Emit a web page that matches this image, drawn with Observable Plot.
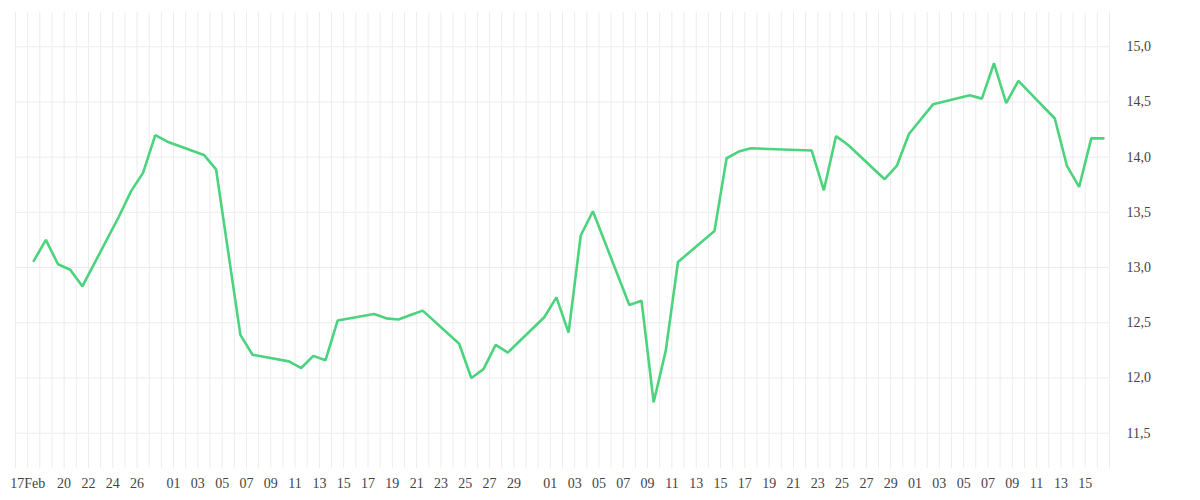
<!DOCTYPE html>
<html><head><meta charset="utf-8">
<script src="https://cdn.jsdelivr.net/npm/d3@7"></script>
<script src="https://cdn.jsdelivr.net/npm/@observablehq/plot@0.6"></script>
<style>
  html,body{margin:0;padding:0;background:#fff;}
  #chart svg{display:block;}
  #chart svg text{font-family:'Liberation Serif','Times New Roman',serif;}
</style>
</head><body><div id="chart"></div>
<script>
// Trading days (2025) and closing values
const dates = [
  "2025-02-17","2025-02-18","2025-02-19","2025-02-20","2025-02-21",
  "2025-02-24","2025-02-25","2025-02-26","2025-02-27","2025-02-28",
  "2025-03-03","2025-03-04","2025-03-05","2025-03-06","2025-03-07",
  "2025-03-10","2025-03-11","2025-03-12","2025-03-13","2025-03-14",
  "2025-03-17","2025-03-18","2025-03-19","2025-03-20","2025-03-21",
  "2025-03-24","2025-03-25","2025-03-26","2025-03-27","2025-03-28",
  "2025-03-31","2025-04-01","2025-04-02","2025-04-03","2025-04-04",
  "2025-04-07","2025-04-08","2025-04-09","2025-04-10","2025-04-11",
  "2025-04-14","2025-04-15","2025-04-16","2025-04-17",
  "2025-04-22","2025-04-23","2025-04-24","2025-04-25",
  "2025-04-28","2025-04-29","2025-04-30","2025-05-02",
  "2025-05-05","2025-05-06","2025-05-07","2025-05-08","2025-05-09",
  "2025-05-12","2025-05-13","2025-05-14","2025-05-15","2025-05-16"
];
const values = [
  13.06, 13.25, 13.03, 12.98, 12.83,
  13.46, 13.69, 13.86, 14.20, 14.14,
  14.02, 13.89, 13.14, 12.39, 12.21,
  12.15, 12.09, 12.20, 12.16, 12.52,
  12.58, 12.54, 12.53, 12.57, 12.61,
  12.31, 12.00, 12.08, 12.30, 12.23,
  12.55, 12.73, 12.41, 13.29, 13.51,
  12.66, 12.70, 11.78, 12.25, 13.05,
  13.33, 13.99, 14.05, 14.08,
  14.06, 13.70, 14.19, 14.11,
  13.80, 13.92, 14.21, 14.48,
  14.56, 14.53, 14.85, 14.49, 14.69,
  14.35, 13.92, 13.73, 14.17, 14.17
];

// X tick labels
const xTickDates = [
  "2025-02-17","2025-02-20","2025-02-22","2025-02-24","2025-02-26",
  "2025-03-01","2025-03-03","2025-03-05","2025-03-07","2025-03-09","2025-03-11","2025-03-13","2025-03-15",
  "2025-03-17","2025-03-19","2025-03-21","2025-03-23","2025-03-25","2025-03-27","2025-03-29",
  "2025-04-01","2025-04-03","2025-04-05","2025-04-07","2025-04-09","2025-04-11","2025-04-13","2025-04-15",
  "2025-04-17","2025-04-19","2025-04-21","2025-04-23","2025-04-25","2025-04-27","2025-04-29",
  "2025-05-01","2025-05-03","2025-05-05","2025-05-07","2025-05-09","2025-05-11","2025-05-13","2025-05-15"
];
const xTickLabels = [
  "17Feb","20","22","24","26",
  "01","03","05","07","09","11","13","15",
  "17","19","21","23","25","27","29",
  "01","03","05","07","09","11","13","15",
  "17","19","21","23","25","27","29",
  "01","03","05","07","09","11","13","15"
];

// Y ticks
const yTicks = [11.5, 12.0, 12.5, 13.0, 13.5, 14.0, 14.5, 15.0];
const yTickLabels = ["11,5","12,0","12,5","13,0","13,5","14,0","14,5","15,0"];

const xDomain = [new Date("2025-02-16T00:00:00Z"), new Date("2025-05-17T00:00:00Z")];
const yDomain = [11.18, 15.31];

const data = dates.map((d, i) => ({date: new Date(d + "T12:00:00Z"), value: values[i]}));
const xTicks = xTickDates.map(d => new Date(d + "T00:00:00Z"));
const xLabelMap = new Map(xTicks.map((d, i) => [+d, xTickLabels[i]]));
const yLabelMap = new Map(yTicks.map((d, i) => [d, yTickLabels[i]]));
const dayGrid = d3.utcDay.range(xDomain[0], new Date(+xDomain[1] + 1));

const gridColor = "#ececec";
const font = "'Liberation Serif', 'Times New Roman', serif";

const chart = Plot.plot({
  width: 1200,
  height: 500,
  marginLeft: 15,
  marginRight: 91,
  marginTop: 12,
  marginBottom: 32,
  style: {fontFamily: font, fontSize: "14px", color: "#444", background: "#fff"},
  x: {type: "utc", domain: xDomain, label: null},
  y: {domain: yDomain, label: null},
  marks: [
    Plot.gridX(dayGrid, {stroke: gridColor, strokeOpacity: 1, strokeWidth: 1}),
    Plot.gridY(yTicks, {stroke: gridColor, strokeOpacity: 1, strokeWidth: 1}),
    Plot.axisX(xTicks, {
      anchor: "bottom", tickSize: 0, tickPadding: 10, label: null,
      tickFormat: d => xLabelMap.get(+d), fontSize: 14, fontFamily: font, fill: "#444"
    }),
    Plot.axisY(yTicks, {
      anchor: "right", tickSize: 0, tickPadding: 17, label: null,
      tickFormat: d => yLabelMap.get(d), fontSize: 14, fontFamily: font, fill: "#444", textAnchor: "start"
    }),
    Plot.lineY(data, {x: "date", y: "value", stroke: "#4bd37e", strokeWidth: 2.6, strokeLinejoin: "miter", curve: "linear"})
  ]
});
document.getElementById("chart").appendChild(chart);
</script>
</body></html>
